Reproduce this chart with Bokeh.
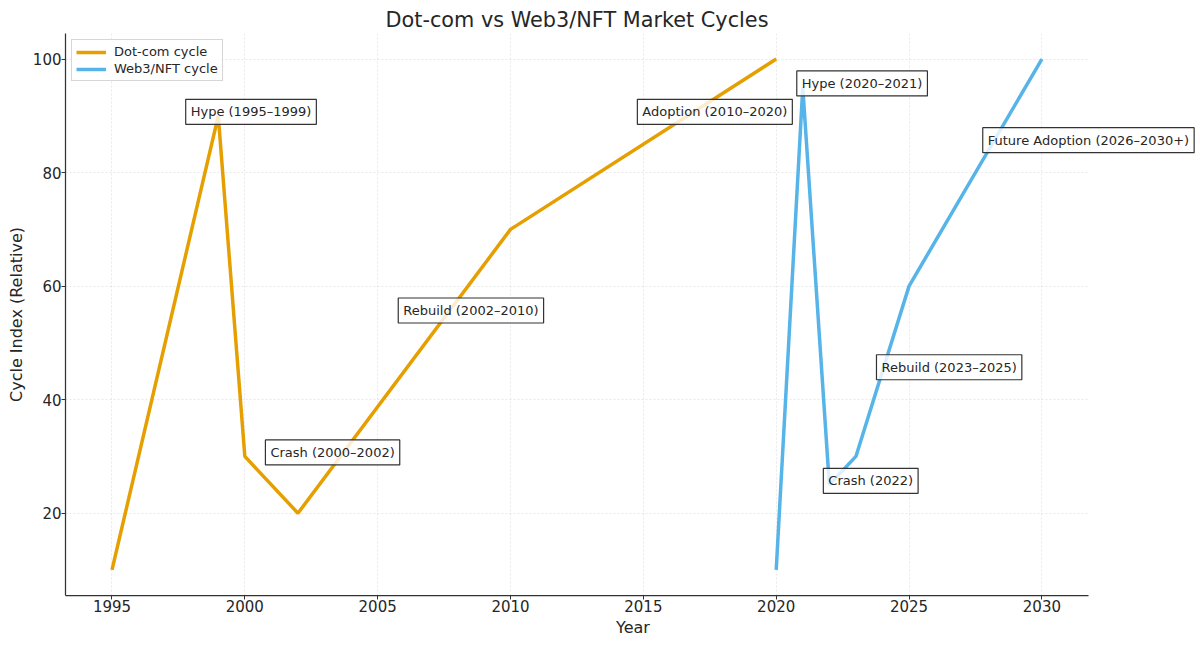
from bokeh.plotting import figure
from bokeh.models import ColumnDataSource, Label, Range1d, FixedTicker, Legend, LegendItem, BoxAnnotation
from bokeh.embed import file_html
from bokeh.resources import INLINE

dot_years = [1995, 1999, 2000, 2002, 2010, 2020]
dot_values = [10, 90, 30, 20, 70, 100]
web3_years = [2020, 2021, 2022, 2023, 2025, 2030]
web3_values = [10, 95, 25, 30, 60, 100]

ann_texts = ["Hype (1995–1999)", "Crash (2000–2002)", "Rebuild (2002–2010)", "Adoption (2010–2020)",
             "Hype (2020–2021)", "Crash (2022)", "Rebuild (2023–2025)", "Future Adoption (2026–2030+)"]
ann_x = [1998, 2001, 2006, 2015, 2021, 2022, 2024, 2028]
ann_y = [90, 30, 55, 90, 95, 25, 45, 85]

x_ticks = [1995, 2000, 2005, 2010, 2015, 2020, 2025, 2030]
y_ticks = [20, 40, 60, 80, 100]

X_AXIS_START, X_AXIS_END = 1993.25, 2031.75
FONT = "DejaVu Sans"

# the frame extends to the right edge so the last annotation box is not clipped;
# the axis itself is bounded to the original data span
p = figure(width=1200, height=646, output_backend="svg", toolbar_location=None,
           title="Dot-com vs Web3/NFT Market Cycles",
           x_range=Range1d(X_AXIS_START, 2035.97), y_range=Range1d(5.5, 104.5),
           min_border_left=65, min_border_right=0, min_border_top=33, min_border_bottom=51)

p.title.align = "left"
p.title.offset = 320
p.title.text_font = FONT
p.title.text_font_size = "20.8px"
p.title.text_font_style = "normal"
p.title.text_color = "#262626"
p.title.standoff = 3

p.outline_line_color = None
p.background_fill_color = "white"
p.border_fill_color = "white"

for g in (p.xgrid[0], p.ygrid[0]):
    g.grid_line_color = "#b0b0b0"
    g.grid_line_alpha = 0.35
    g.grid_line_dash = "2 2"
    g.grid_line_width = 0.8

p.xaxis.ticker = FixedTicker(ticks=x_ticks)
p.yaxis.ticker = FixedTicker(ticks=y_ticks)
p.xgrid[0].ticker = FixedTicker(ticks=x_ticks)
p.ygrid[0].ticker = FixedTicker(ticks=y_ticks)
p.xaxis.bounds = (X_AXIS_START, X_AXIS_END)

# blank out the grid beyond the axis end
p.add_layout(BoxAnnotation(left=X_AXIS_END, fill_color="white", fill_alpha=1.0,
                           line_color=None, level="underlay"))

for ax in (p.xaxis[0], p.yaxis[0]):
    ax.axis_line_color = "#333333"
    ax.axis_line_width = 1.25
    ax.major_tick_line_color = "#333333"
    ax.major_tick_line_width = 1.0
    ax.major_tick_out = 4
    ax.major_tick_in = 0
    ax.minor_tick_line_color = None
    ax.major_label_text_font = FONT
    ax.major_label_text_font_size = "15px"
    ax.major_label_text_color = "#262626"
    ax.axis_label_text_font = FONT
    ax.axis_label_text_font_size = "16px"
    ax.axis_label_text_font_style = "normal"
    ax.axis_label_text_color = "#262626"

p.xaxis.axis_label = "Year"
p.yaxis.axis_label = "Cycle Index (Relative)"
p.xaxis.major_label_standoff = 0
p.xaxis.axis_label_standoff = 3
p.yaxis.major_label_standoff = 0
p.yaxis.axis_label_standoff = 4

src_dot = ColumnDataSource(dict(x=dot_years, y=dot_values))
src_web = ColumnDataSource(dict(x=web3_years, y=web3_values))

r1 = p.line("x", "y", source=src_dot, line_color="#E69F00", line_width=3.5)
r2 = p.line("x", "y", source=src_web, line_color="#56B4E9", line_width=3.5)

for t, xv, yv in zip(ann_texts, ann_x, ann_y):
    p.add_layout(Label(x=xv, y=yv, text=t, level="overlay",
                       text_font=FONT, text_font_size="13px", text_color="#262626",
                       text_align="left", text_baseline="middle",
                       x_offset=-6, y_offset=4,
                       background_fill_color="white", background_fill_alpha=0.8,
                       border_line_color="#333333", border_line_width=1.2,
                       padding=5))

legend = Legend(items=[LegendItem(label="Dot-com cycle", renderers=[r1]),
                       LegendItem(label="Web3/NFT cycle", renderers=[r2])],
                location="top_left")
legend.label_text_font = FONT
legend.label_text_font_size = "13px"
legend.label_text_color = "#262626"
legend.border_line_color = "#cccccc"
legend.border_line_alpha = 0.8
legend.background_fill_alpha = 0.8
legend.glyph_width = 30
legend.glyph_height = 14
legend.label_height = 14
legend.spacing = 2
legend.padding = 4
legend.margin = 6
legend.label_standoff = 8
p.add_layout(legend)

open("out.html", "w").write(file_html(p, INLINE))
